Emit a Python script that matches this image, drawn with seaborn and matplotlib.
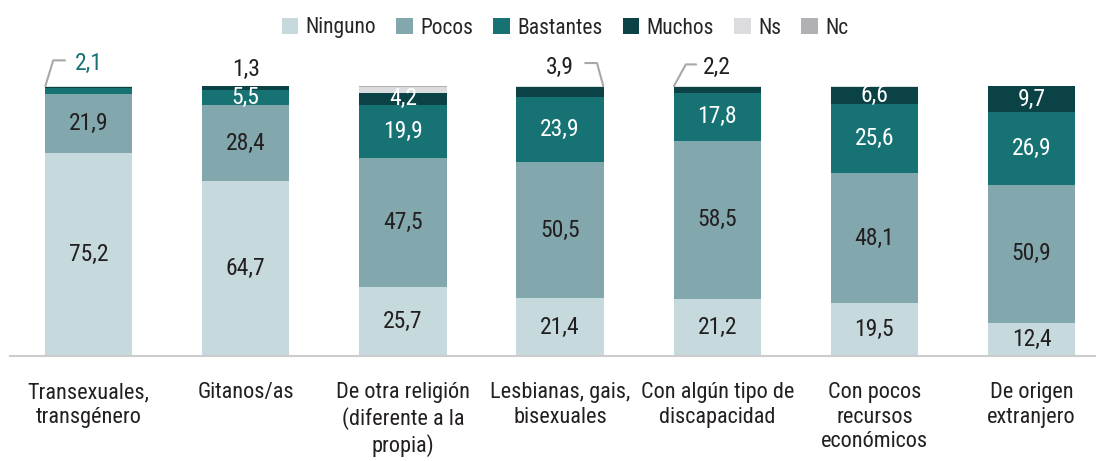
import matplotlib
matplotlib.use('Agg')
import matplotlib.pyplot as plt
import seaborn as sns
import pandas as pd
import numpy as np
from matplotlib import font_manager

categorias = ['Transexuales,\ntransgénero', 'Gitanos/as', 'De otra religión\n(diferente a la\npropia)',
              'Lesbianas, gais,\nbisexuales', 'Con algún tipo de\ndiscapacidad',
              'Con pocos\nrecursos\neconómicos', 'De origen\nextranjero']
ninguno = [75.2, 64.7, 25.7, 21.4, 21.2, 19.5, 12.4]
pocos = [21.9, 28.4, 47.5, 50.5, 58.5, 48.1, 50.9]
bastantes = [2.1, 5.5, 19.9, 23.9, 17.8, 25.6, 26.9]
muchos = [0.3, 1.3, 4.2, 3.9, 2.2, 6.6, 9.7]
ns = [0.4, 0.1, 2.4, 0.3, 0.3, 0.2, 0.1]
nc = [0.1, 0.0, 0.3, 0.0, 0.0, 0.0, 0.0]

series = ['Ninguno', 'Pocos', 'Bastantes', 'Muchos', 'Ns', 'Nc']
valores = [ninguno, pocos, bastantes, muchos, ns, nc]
colores = ['#c6d9dc', '#82a8ae', '#177274', '#0a4245', '#dcdcde', '#b1b1b5']
texto_color = ['#231f20', '#231f20', 'white', 'white', '#231f20', '#231f20']

sns.set_theme(style='white')

# buscar una fuente estrecha si existe
fuentes = font_manager.fontManager.ttflist
estrechas = [f for f in fuentes if f.stretch in ('condensed', 'semi-condensed')
             or 'Narrow' in f.name or 'Condensed' in f.name]
preferidas = ['Liberation Sans Narrow', 'Roboto Condensed', 'Open Sans Condensed', 'Noto Sans',
              'Open Sans', 'Roboto', 'DejaVu Sans']
fam, stretch = 'Roboto', 'normal'
for p in preferidas:
    m = [f for f in estrechas if f.name == p]
    if m:
        fam, stretch = p, m[0].stretch
        break
plt.rcParams['font.family'] = [fam, 'DejaVu Sans']
plt.rcParams['font.stretch'] = stretch
fs_val = 17 if stretch != 'normal' else 14
fs_tick = 16 if stretch != 'normal' else 13.5
fs_leg = 15.5 if stretch != 'normal' else 13.5

fig = plt.figure(figsize=(10.96, 4.61), dpi=100)
ax = fig.add_axes([10 / 1096, 105 / 461, 1086 / 1096, 270 / 461])

x = np.arange(len(categorias))
base = np.zeros(len(categorias))
for nombre, vals, col, tcol in zip(series, valores, colores, texto_color):
    df = pd.DataFrame({'cat': x, 'val': vals})
    sns.barplot(data=df, x='cat', y='val', color=col, bottom=base, width=0.555,
                ax=ax, label=nombre, native_scale=True, linewidth=0, saturation=1)
    for i, v in enumerate(vals):
        if v >= 4 and nombre in ('Ninguno', 'Pocos', 'Bastantes', 'Muchos'):
            ax.text(i, base[i] + v / 2, f'{v:.1f}'.replace('.', ','), ha='center', va='center',
                    color=tcol, fontsize=fs_val)
    base = base + np.array(vals)
total = base

# etiquetas externas para valores pequeños, con líneas guía
lw = dict(color='#a8a8a8', lw=1.5, clip_on=False)
yl, yt = 109.5, 107.5
# Transexuales: Bastantes 2,1
ax.plot([-0.275, -0.225, -0.15], [total[0], yl, yl], **lw)
ax.text(0, yt + 0.8, f'{bastantes[0]:.1f}'.replace('.', ','), ha='center', va='center',
        color='#177274', fontsize=fs_val)
# Gitanos: Muchos 1,3
ax.text(1, yt - 1.5, f'{muchos[1]:.1f}'.replace('.', ','), ha='center', va='center',
        color='#231f20', fontsize=fs_val)
# Lesbianas: Muchos 3,9
ax.plot([3.16, 3.235, 3.275], [yl - 1, yl - 1, total[3]], **lw)
ax.text(3, yt - 0.5, f'{muchos[3]:.1f}'.replace('.', ','), ha='center', va='center',
        color='#231f20', fontsize=fs_val)
# Discapacidad: Muchos 2,2
ax.plot([4 - 0.275, 4 - 0.2, 4 - 0.135], [total[4], yl - 1.5, yl - 1.5], **lw)
ax.text(4, yt - 0.8, f'{muchos[4]:.1f}'.replace('.', ','), ha='center', va='center',
        color='#231f20', fontsize=fs_val)

if ax.get_legend() is not None:
    ax.get_legend().remove()

ax.set_xlim(-0.5, 6.41)
ax.set_ylim(0, 100)
ax.set_yticks([])
ax.set_xticks(x)
ax.set_xticklabels(categorias, fontsize=fs_tick, color='#231f20', va='top', linespacing=1.2)
ax.tick_params(axis='x', length=0, pad=19)
ax.set_xlabel('')
ax.set_ylabel('')
for s in ['top', 'left', 'right']:
    ax.spines[s].set_visible(False)
ax.spines['bottom'].set_color('#cccccc')
ax.spines['bottom'].set_linewidth(1.5)

handles, labels = ax.get_legend_handles_labels()
fig.legend(handles, labels, loc='center', bbox_to_anchor=(565 / 1096, 1 - 28 / 461), ncol=6,
           frameon=False, fontsize=fs_leg, handlelength=0.75, handleheight=0.75, handletextpad=0.35,
           columnspacing=0.95)

plt.savefig('out.png', dpi=100)
